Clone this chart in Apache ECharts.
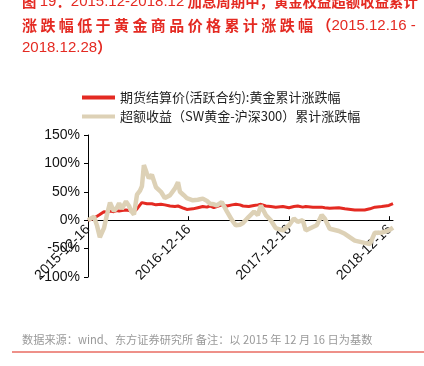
<!DOCTYPE html>
<html>
<head>
<meta charset="utf-8">
<script src="https://cdn.jsdelivr.net/npm/echarts@6/dist/echarts.min.js"></script>
<style>
  html, body { margin: 0; padding: 0; background: #fff; }
  #chart { width: 424px; height: 366px; }
</style>
</head>
<body>
<div id="chart"></div>
<script>
// 日期（2015-12-16 为基数）
var dates = [
  '2015-12-16', '2015-12-30', '2016-01-07', '2016-01-18', '2016-01-28', '2016-02-12',
  '2016-02-23', '2016-03-05', '2016-03-19', '2016-03-30', '2016-04-07', '2016-04-17',
  '2016-05-02', '2016-05-13', '2016-05-20', '2016-05-31', '2016-06-11', '2016-06-22',
  '2016-06-29', '2016-07-06', '2016-07-17', '2016-07-24', '2016-08-04', '2016-08-19',
  '2016-09-06', '2016-09-20', '2016-10-09', '2016-10-27', '2016-11-07', '2016-11-14',
  '2016-11-28', '2016-12-09', '2016-12-31', '2017-01-18', '2017-02-05', '2017-02-20',
  '2017-03-03', '2017-03-17', '2017-03-28', '2017-04-15', '2017-05-04', '2017-05-22',
  '2017-06-05', '2017-06-20', '2017-07-01', '2017-07-22', '2017-08-10', '2017-08-24',
  '2017-09-04', '2017-09-22', '2017-10-10', '2017-10-28', '2017-11-23', '2017-12-15',
  '2018-01-02', '2018-01-16', '2018-02-03', '2018-02-14', '2018-03-12', '2018-03-26',
  '2018-04-13', '2018-04-24', '2018-05-12', '2018-06-14', '2018-07-06', '2018-08-11',
  '2018-09-16', '2018-10-05', '2018-10-23', '2018-11-17', '2018-12-13', '2018-12-28'
];
// 期货结算价(活跃合约):黄金累计涨跌幅 (%)
var goldFutures = [
  0, 2, 4, 7, 10, 15,
  14, 16, 15, 17, 16, 17,
  18, 17, 16, 15, 20, 27,
  31, 30, 29, 28, 29, 27,
  28, 27, 25, 24, 25, 22,
  21, 19, 20, 22, 24, 23,
  25, 22, 24, 27, 25, 27,
  28, 27, 25, 24, 26, 27,
  28, 25, 24, 23, 24, 22,
  24, 25, 23, 24, 23, 23,
  23, 22, 21, 22, 20, 18,
  18, 20, 23, 24, 26, 29
];
// 超额收益（SW黄金-沪深300）累计涨跌幅 (%)
var excessReturn = [
  0, 4, 6, -10, -30, -14,
  10, 31, 16, 22, 30, 20,
  33, 25, 17, 10, 45, 52,
  60, 97, 82, 74, 80, 58,
  50, 39, 44, 56, 67, 50,
  44, 39, 35, 36, 38, 34,
  29, 28, 26, 32, 15, 0,
  -9, -8, -5, 6, 15, 9,
  26, 9, 0, -14, -18, -9,
  3, -3, 0, -18, -12, -9,
  9, 3, -15, -19, -24, -36,
  -40, -42, -22, -22, -18, -13
];
var tickDates = ['2015-12-16', '2016-12-16', '2017-12-16', '2018-12-16'];
var legendNames = ['期货结算价(活跃合约):黄金累计涨跌幅', '超额收益（SW黄金-沪深300）累计涨跌幅'];

var DAY = 86400000;
function toTime(s) {
  var p = s.split('-');
  return Date.UTC(+p[0], +p[1] - 1, +p[2]);
}
var t0 = toTime(dates[0]);
function toDay(s) { return Math.round((toTime(s) - t0) / DAY); }
function pad(n) { return n < 10 ? '0' + n : '' + n; }
function dayLabel(v) {
  var d = new Date(t0 + Math.round(v) * DAY);
  return d.getUTCFullYear() + '-' + pad(d.getUTCMonth() + 1) + '-' + pad(d.getUTCDate());
}

var goldData = dates.map(function (d, i) { return [toDay(d), goldFutures[i]]; });
var excessData = dates.map(function (d, i) { return [toDay(d), excessReturn[i]]; });
var tickDays = tickDates.map(toDay);

var red = '#e42a22';
var latin = '"Liberation Sans", Arial, sans-serif';
var fontFamily = '"Liberation Sans", Arial, "Noto Sans CJK SC", sans-serif';
var cjk = '"Noto Sans CJK SC", "Liberation Sans", sans-serif';
var titleRich = {
  c: { fontSize: 15, fontWeight: 'bold', fontFamily: cjk, fill: red },
  c1: { fontSize: 14.4, fontWeight: 'bold', fontFamily: cjk, fill: red },
  n: { fontSize: 15, fontWeight: 'normal', fontFamily: latin, fill: red }
};

var myChart = echarts.init(document.getElementById('chart'));
var option = {
  animation: false,
  backgroundColor: '#fff',
  textStyle: { fontFamily: fontFamily },
  graphic: [
    { type: 'text', left: 22, top: -6, style: { text: '{c1|图} {n|19}{c1|：}{n|2015.12-2018.12} {c1|加息周期中，黄金权益超额收益累计}', rich: titleRich, fill: red } },
    { type: 'text', left: 22, top: 18, style: { text: '{c|涨 跌 幅 低 于 黄 金 商 品 价 格 累 计 涨 跌 幅 （}{n|2015.12.16 -}', rich: titleRich, fill: red } },
    { type: 'text', left: 22, top: 40, style: { text: '{n|2018.12.28}{c|）}', rich: titleRich, fill: red } },
    { type: 'text', left: 22, top: 334, style: { text: '数据来源：wind、东方证券研究所 备注：以 2015 年 12 月 16 日为基数', fontSize: 11.2, fontFamily: cjk, fill: '#999' } },
    { type: 'rect', shape: { x: 12, y: 351, width: 412, height: 2 }, style: { fill: '#ee9089' } }
  ],
  legend: {
    orient: 'vertical',
    left: 77,
    top: 86,
    itemGap: 6,
    itemWidth: 33,
    itemHeight: 4,
    icon: 'rect',
    textStyle: { fontSize: 13, color: '#222', fontFamily: cjk },
    data: legendNames
  },
  grid: { left: 88, right: 31, top: 135, bottom: 89, outerBoundsMode: 'none' },
  xAxis: {
    type: 'value',
    min: 0,
    max: toDay('2018-12-28'),
    offset: -56.8,
    axisLine: { onZero: false, lineStyle: { color: '#000', width: 1 } },
    axisTick: { show: true, inside: true, length: 4, customValues: tickDays, lineStyle: { color: '#000' } },
    axisLabel: {
      customValues: tickDays,
      rotate: 45,
      fontSize: 14,
      color: '#111',
      margin: 7,
      formatter: dayLabel
    },
    splitLine: { show: false }
  },
  yAxis: {
    type: 'value',
    min: -100,
    max: 150,
    interval: 50,
    axisLine: { show: true, lineStyle: { color: '#000', width: 1 } },
    axisTick: { show: true, length: 4, lineStyle: { color: '#000' } },
    axisLabel: { formatter: '{value}%', fontSize: 14, color: '#111', margin: 8 },
    splitLine: { show: false }
  },
  series: [
    {
      name: legendNames[0],
      type: 'line',
      data: goldData,
      showSymbol: false,
      symbol: 'none',
      itemStyle: { color: red },
      lineStyle: { color: red, width: 3 }
    },
    {
      name: legendNames[1],
      type: 'line',
      data: excessData,
      showSymbol: false,
      symbol: 'none',
      itemStyle: { color: '#ddd1b6' },
      lineStyle: { color: '#ddd1b6', width: 4.5 }
    }
  ]
};
myChart.setOption(option);
</script>
</body>
</html>
